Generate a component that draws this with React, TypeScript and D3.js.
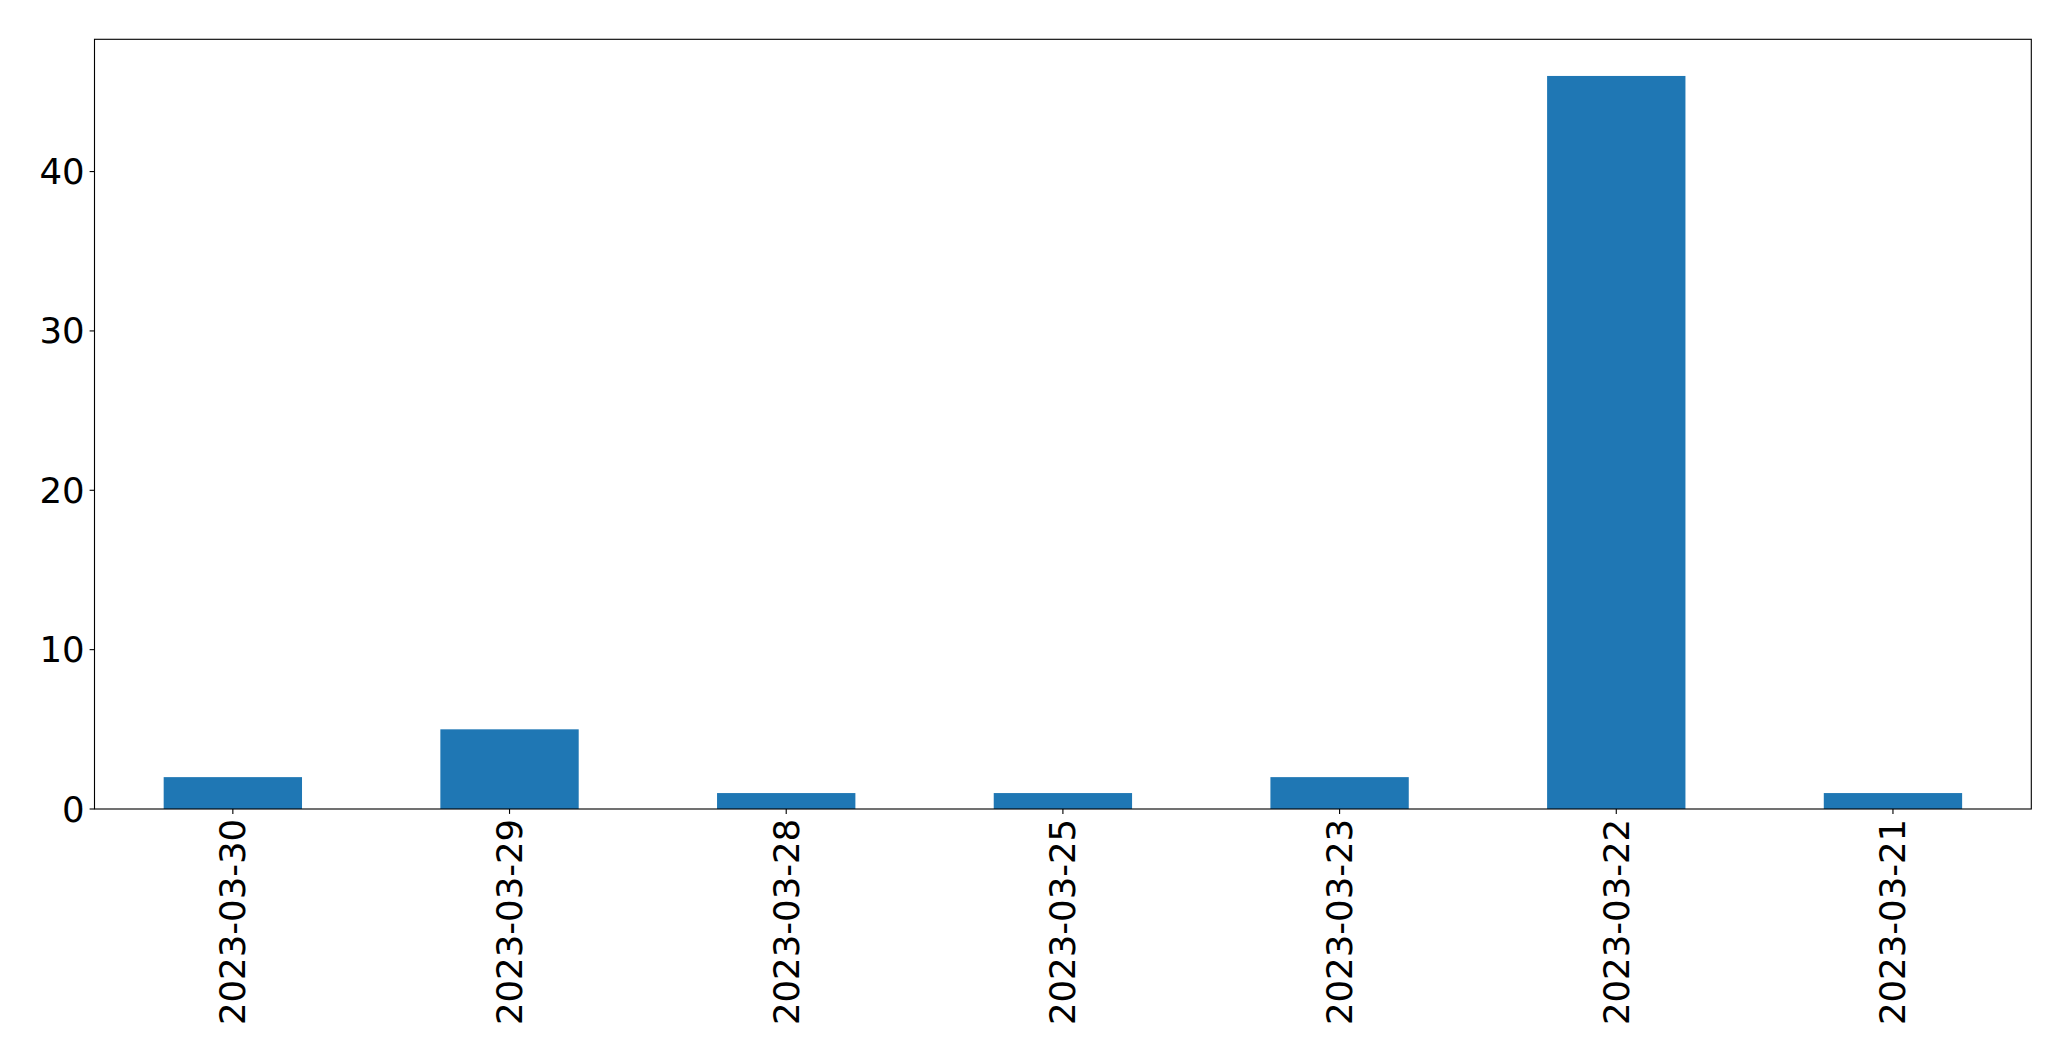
import React from "react";
import * as d3 from "d3";

const categories = ["2023-03-30", "2023-03-29", "2023-03-28", "2023-03-25", "2023-03-23", "2023-03-22", "2023-03-21"];
const values = [2, 5, 1, 1, 2, 46, 1];
const yTicks = [0, 10, 20, 30, 40];

const W = 2071, H = 1061;
const M = { left: 94.5, right: 2031.3, top: 39.3, bottom: 809 };
const FONT = "'DejaVu Sans', sans-serif";
const FS = 35.5;
const TICK = 4.9;
const PAD = 4.9;

export default function App() {
  const x = d3.scaleLinear().domain([-0.5, categories.length - 0.5]).range([M.left, M.right]);
  const y = d3.scaleLinear().domain([0, d3.max(values)! * 1.05]).range([M.bottom, M.top]);
  const bw = x(0.25) - x(-0.25);
  return (
    <svg width={W} height={H} style={{ position: "absolute", left: 0, top: 0, background: "#fff" }}>
      <rect x={0} y={0} width={W} height={H} fill="#fff" />
      {values.map((v, i) => (
        <rect key={i} x={x(i) - bw / 2} y={y(v)} width={bw} height={y(0) - y(v)} fill="#1f77b4" />
      ))}
      <rect x={M.left} y={M.top} width={M.right - M.left} height={M.bottom - M.top} fill="none" stroke="#000" strokeWidth={1.11} />
      {yTicks.map((t) => (
        <g key={t}>
          <line x1={M.left - TICK} x2={M.left} y1={y(t)} y2={y(t)} stroke="#000" strokeWidth={1.11} />
          <text x={M.left - TICK - PAD} y={y(t)} textAnchor="end" dominantBaseline="central" fontFamily={FONT} fontSize={FS} fill="#000">{t}</text>
        </g>
      ))}
      {categories.map((c, i) => (
        <g key={c}>
          <line x1={x(i)} x2={x(i)} y1={M.bottom} y2={M.bottom + TICK} stroke="#000" strokeWidth={1.11} />
          <text transform={`translate(${x(i)},${M.bottom + TICK + PAD}) rotate(-90)`} textAnchor="end" dominantBaseline="central" fontFamily={FONT} fontSize={FS} fill="#000">{c}</text>
        </g>
      ))}
    </svg>
  );
}
